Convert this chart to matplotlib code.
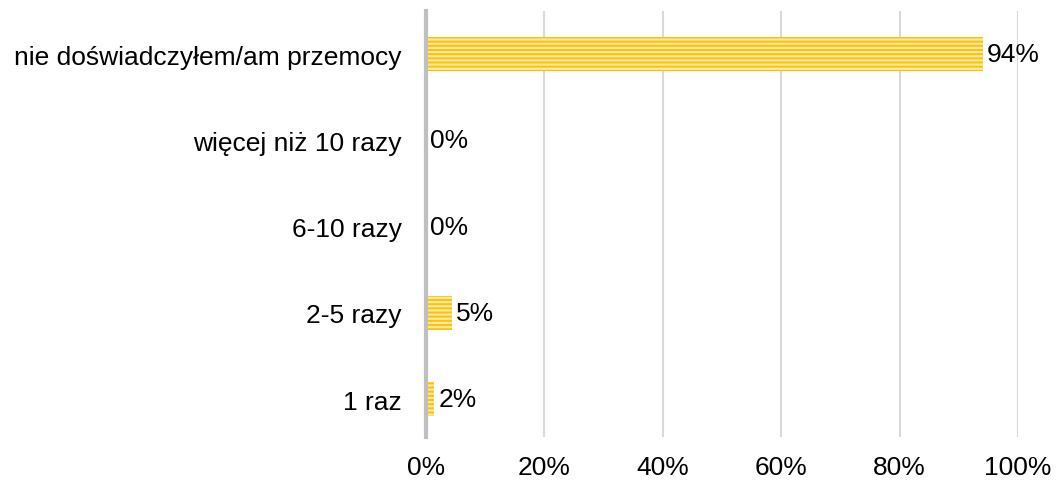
import matplotlib
matplotlib.use('Agg')
import matplotlib.pyplot as plt
from matplotlib.ticker import PercentFormatter

categories = ['1 raz', '2-5 razy', '6-10 razy', 'więcej niż 10 razy', 'nie doświadczyłem/am przemocy']
values = [1.5, 4.4, 0.0, 0.0, 94.1]
labels = ['2%', '5%', '0%', '0%', '94%']

plt.rcParams['font.family'] = ['Liberation Sans', 'DejaVu Sans']
plt.rcParams['hatch.linewidth'] = 1.6

fig = plt.figure(figsize=(10.56, 4.81), dpi=100)
ax = fig.add_axes([0.403, 0.089, 0.561, 0.886])

pos = list(range(len(categories)))
ax.barh(pos, values, height=0.4, color='#FFC000', linewidth=0, zorder=2)
ax.barh(pos, values, height=0.4, facecolor='none', edgecolor='#FFE9A8',
        linewidth=0, hatch='----', zorder=3)

for i, (v, t) in enumerate(zip(values, labels)):
    ax.text(v + 0.7, i, t, va='center', ha='left', fontsize=19, color='#000000')

ax.set_xlim(0, 100)
ax.set_ylim(-0.44, 4.5)
ax.set_xticks([0, 20, 40, 60, 80, 100])
ax.xaxis.set_major_formatter(PercentFormatter(decimals=0))
ax.set_yticks(pos)
ax.set_yticklabels(categories)
ax.tick_params(axis='x', length=0, pad=13, labelsize=19)
ax.tick_params(axis='y', length=0, pad=17, labelsize=19)

ax.grid(axis='x', color='#D9D9D9', linewidth=1.5, zorder=0)
ax.set_axisbelow(True)
for s in ['top', 'right', 'bottom']:
    ax.spines[s].set_visible(False)
ax.spines['left'].set_color('#BFBFBF')
ax.spines['left'].set_linewidth(3)
ax.spines['left'].set_zorder(4)

fig.savefig('out.png', dpi=100)
